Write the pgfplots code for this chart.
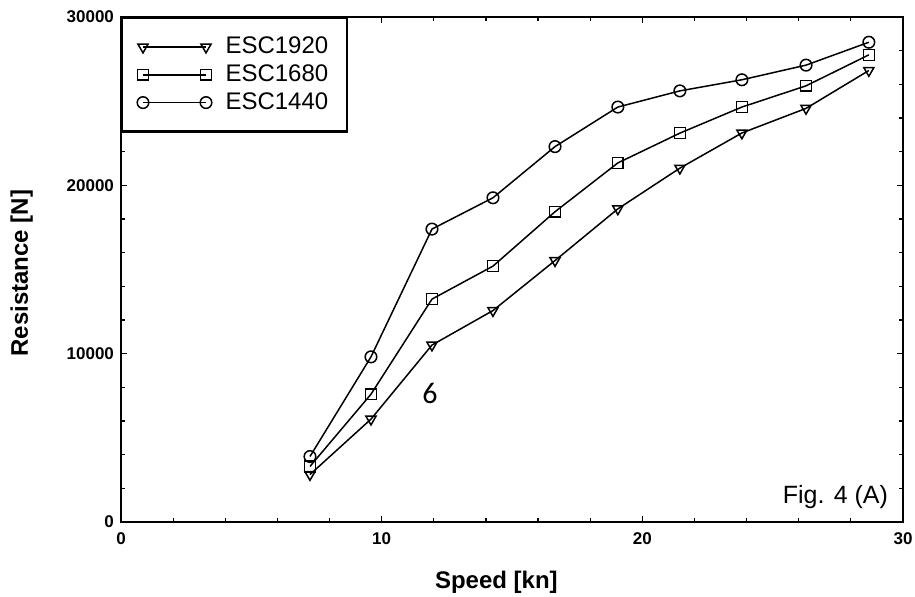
\documentclass[border=0pt]{standalone}
\usepackage{fontspec}
\setmainfont{Liberation Sans}
\newfontfamily\sixfont{Carlito}
\usepackage{pgfplots}
\pgfplotsset{compat=1.18}
\begin{document}
\begin{tikzpicture}
\begin{axis}[
  scale only axis, width=391pt, height=252.5pt,
  at={(0,0)}, anchor=south west,
  xmin=0, xmax=30, ymin=0, ymax=30000,
  xtick={0,10,20,30}, ytick={0,10000,20000,30000},
  minor xtick={2,4,...,28}, minor ytick={2000,4000,...,28000},
  tick align=inside, major tick length=3pt, minor tick length=2pt,
  axis line style={line width=1.2pt},
  every tick/.style={black, line width=0.6pt},
  scaled y ticks=false,
  /pgf/number format/assume math mode=true,
  yticklabel style={/pgf/number format/1000 sep={}},
  xticklabel style={yshift=-2pt},
  ticklabel style={font=\fontsize{8.5}{10}\selectfont\bfseries},
  xlabel={Speed [kn]}, ylabel={Resistance [N]},
  label style={font=\fontsize{12}{14}\selectfont\bfseries},
  xlabel style={at={(axis description cs:0.48,-0.119)}, anchor=center},
  ylabel style={at={(axis description cs:-0.127,0.493)}, anchor=center},
  legend style={at={(0,1)}, anchor=north west, draw=black, line width=1.2pt,
    font=\fontsize{12}{14}\selectfont, inner xsep=7.5pt, inner ysep=7.5pt,
    row sep=0pt},
  legend cell align=left,
  legend image code/.code={\draw[#1, mark repeat=2, mark phase=1] plot coordinates {(0pt,0pt) (15.75pt,0pt) (31.5pt,0pt)};
    \path (38.9pt,0pt);},
]
\addplot[black, line width=0.75pt, mark=triangle, mark size=2.9pt, mark options={solid, fill=white, rotate=180}] coordinates {
(7.25,2820) (9.59,6110) (11.93,10510) (14.27,12560) (16.65,15530) (19.06,18600) (21.44,21020) (23.82,23110) (26.28,24570) (28.69,26820)};
\addlegendentry{ESC1920}
\addplot[black, line width=0.75pt, mark=square, mark size=2.7pt, mark options={solid, fill=white}] coordinates {
(7.25,3300) (9.59,7590) (11.93,13240) (14.27,15200) (16.65,18430) (19.06,21330) (21.44,23100) (23.82,24650) (26.28,25910) (28.69,27750)};
\addlegendentry{ESC1680}
\addplot[black, line width=0.75pt, mark=o, mark size=2.9pt, mark options={solid, fill=white}] coordinates {
(7.25,3890) (9.59,9810) (11.93,17400) (14.27,19260) (16.65,22300) (19.06,24650) (21.44,25610) (23.82,26270) (26.28,27140) (28.69,28500)};
\addlegendentry{ESC1440}
\node[anchor=base east, font=\fontsize{12.5}{14}\selectfont] at (rel axis cs:1,0) [xshift=-4pt, yshift=9pt] {Fig. 4 (A)};
\node[font=\sixfont\fontsize{15}{17}\selectfont] at (axis cs:11.85,7650) {6};
\end{axis}
\pgfresetboundingbox
\useasboundingbox (-60.5pt,-37.5pt) rectangle (397pt,261pt);
\end{tikzpicture}
\end{document}
